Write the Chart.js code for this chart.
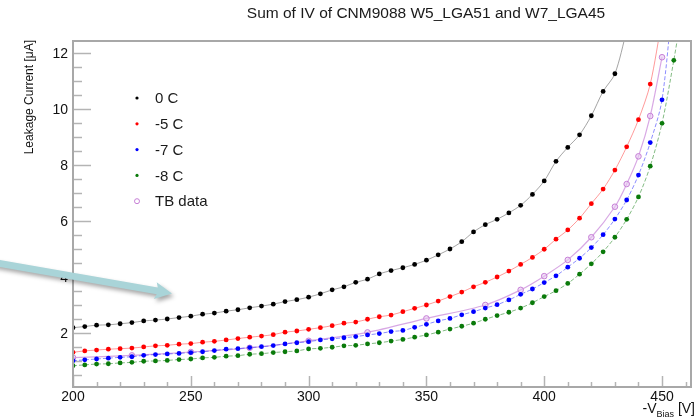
<!DOCTYPE html>
<html>
<head>
<meta charset="UTF-8">
<title>Sum of IV</title>
<script src="https://cdn.jsdelivr.net/npm/chart.js"></script>
<style>
  body { margin: 0; background: #fff; }
  canvas { display: block; }
</style>
</head>
<body>
<canvas id="ivChart" width="696" height="420"></canvas>
<script>
// bias voltage [V] and leakage current [uA]
const volts0 = [200,205,210,215,220,225,230,235,240,245,250,255,260,265,270,275,280,285,290,295,
  300,305,310,315,320,325,330,335,340,345,350,355,360,365,370,375,380,385,390,395,400,405,410,415,420,425,430,435];
const cur0 = [2.19,2.23,2.28,2.29,2.33,2.37,2.43,2.46,2.50,2.55,2.60,2.67,2.71,2.78,2.83,2.90,2.96,3.03,3.12,3.19,
  3.28,3.40,3.54,3.65,3.81,3.92,4.11,4.23,4.33,4.45,4.60,4.79,5.00,5.26,5.61,5.87,6.06,6.29,6.56,6.95,
  7.43,8.13,8.63,9.08,9.76,10.63,11.26,12.8];

const volts5 = [200,205,210,215,220,225,230,235,240,245,250,255,260,265,270,275,280,285,290,295,
  300,305,310,315,320,325,330,335,340,345,350,355,360,365,370,375,380,385,390,395,400,405,410,415,420,425,430,435,440,445,450];
const cur5 = [1.31,1.36,1.39,1.42,1.44,1.46,1.50,1.54,1.56,1.60,1.62,1.67,1.70,1.75,1.80,1.85,1.89,1.94,2.03,2.07,
  2.13,2.19,2.26,2.35,2.39,2.49,2.58,2.64,2.76,2.88,3.00,3.14,3.30,3.46,3.65,3.81,4.00,4.21,4.45,4.70,
  4.99,5.35,5.68,6.10,6.62,7.14,7.82,8.65,9.62,10.89,13.2];

const volts7 = [200,205,210,215,220,225,230,235,240,245,250,255,260,265,270,275,280,285,290,295,
  300,305,310,315,320,325,330,335,340,345,350,355,360,365,370,375,380,385,390,395,400,405,410,415,420,425,430,435,440,445,450,455];
const cur7 = [1.01,1.04,1.07,1.10,1.13,1.15,1.20,1.23,1.25,1.27,1.30,1.33,1.37,1.42,1.44,1.48,1.51,1.55,1.61,1.65,
  1.69,1.75,1.79,1.83,1.87,1.93,1.98,2.05,2.09,2.20,2.31,2.43,2.52,2.65,2.76,2.89,3.01,3.18,3.38,3.57,
  3.80,4.04,4.35,4.67,5.05,5.51,6.07,6.75,7.64,8.80,10.33,14.4];

const volts8 = [200,205,210,215,220,225,230,235,240,245,250,255,260,265,270,275,280,285,290,295,
  300,305,310,315,320,325,330,335,340,345,350,355,360,365,370,375,380,385,390,395,400,405,410,415,420,425,430,435,440,445,450,455,460];
const cur8 = [0.83,0.86,0.89,0.90,0.93,0.95,0.99,1.00,1.02,1.05,1.07,1.11,1.13,1.17,1.19,1.24,1.26,1.30,1.33,1.36,
  1.43,1.45,1.49,1.54,1.56,1.61,1.65,1.71,1.77,1.85,1.93,2.03,2.14,2.24,2.35,2.49,2.62,2.74,2.89,3.08,
  3.30,3.51,3.77,4.10,4.47,4.90,5.42,6.06,6.86,7.96,9.49,11.74,14.3];

const voltsTB = [200,225,250,275,300,325,350,375,390,400,410,420,430,435,440,445,450];
const curTB = [1.12,1.20,1.32,1.47,1.72,2.02,2.52,3.00,3.54,4.03,4.61,5.42,6.51,7.32,8.31,9.75,11.85];

const xTicks = [200, 250, 300, 350, 400, 450];
const yTicks = [2, 4, 6, 8, 10, 12];
const legendLabels = ['0 C', '-5 C', '-7 C', '-8 C', 'TB data'];

const FONT = '"Liberation Sans", Arial, Helvetica, sans-serif';

function pts(xs, ys) {
    return xs.map((x, i) => ({ x: x, y: ys[i] }));
}

function series(label, xs, ys, color, lineColor, dash) {
    return {
        label: label,
        data: pts(xs, ys),
        borderColor: lineColor,
        borderWidth: 1,
        borderDash: dash || [],
        tension: 0.3,
        pointRadius: 2.4,
        pointBorderWidth: 0,
        pointBackgroundColor: color,
        pointBorderColor: color
    };
}

const markerColors = ['#000000', '#ff0000', '#0000ff', '#0a7a0a', '#c67fd6'];

const decor = {
    id: 'decor',
    beforeDatasetsDraw(chart) {
        const ctx = chart.ctx;
        const a = chart.chartArea;
        const xs = chart.scales.x, ys = chart.scales.y;
        ctx.save();
        ctx.strokeStyle = '#b4b4b4';
        ctx.lineWidth = 1.5;
        // y ticks pointing inward, every 0.5
        for (let v = 0.5; v <= 12.01; v += 0.5) {
            const y = Math.round(ys.getPixelForValue(v)) + 0.5;
            const len = (Math.abs(v % 2) < 0.01) ? 18 : 9;
            ctx.beginPath();
            ctx.moveTo(a.left, y);
            ctx.lineTo(a.left + len, y);
            ctx.stroke();
        }
        // x ticks every 10
        for (let v = 200; v <= 460; v += 10) {
            const x = Math.round(xs.getPixelForValue(v)) + 0.5;
            const len = (v % 50 === 0) ? 11 : 5;
            ctx.beginPath();
            ctx.moveTo(x, a.bottom);
            ctx.lineTo(x, a.bottom - len);
            ctx.stroke();
        }
        ctx.restore();
    },
    afterDraw(chart) {
        const ctx = chart.ctx;
        const a = chart.chartArea;
        const xs = chart.scales.x, ys = chart.scales.y;
        ctx.save();

        // frame
        ctx.strokeStyle = '#a8a8a8';
        ctx.lineWidth = 2;
        ctx.strokeRect(a.left, a.top, a.right - a.left, a.bottom - a.top);

        // title
        ctx.fillStyle = '#1a1a1a';
        ctx.font = '15.5px ' + FONT;
        ctx.textAlign = 'center';
        ctx.textBaseline = 'middle';
        ctx.fillText('Sum of IV of CNM9088 W5_LGA51 and W7_LGA45', 426, 14);

        // tick labels
        ctx.fillStyle = '#111';
        ctx.font = '14px ' + FONT;
        ctx.textAlign = 'right';
        yTicks.forEach(v => ctx.fillText(String(v), 68, ys.getPixelForValue(v) + 1));
        ctx.textAlign = 'center';
        ctx.textBaseline = 'top';
        xTicks.forEach(v => ctx.fillText(String(v), xs.getPixelForValue(v), a.bottom + 3));

        // y title
        ctx.save();
        ctx.translate(30, a.top - 1);
        ctx.rotate(-Math.PI / 2);
        ctx.font = '12px ' + FONT;
        ctx.textAlign = 'right';
        ctx.textBaseline = 'middle';
        ctx.fillText('Leakage Current [\u03bcA]', 0, 0);
        ctx.restore();

        // x title: -V_Bias [V]
        ctx.textBaseline = 'alphabetic';
        ctx.textAlign = 'right';
        ctx.font = '14px ' + FONT;
        let xr = 695;
        ctx.fillText(' [V]', xr, 413);
        xr -= ctx.measureText(' [V]').width;
        ctx.font = '9px ' + FONT;
        ctx.fillText('Bias', xr, 417);
        xr -= ctx.measureText('Bias').width;
        ctx.font = '14px ' + FONT;
        ctx.fillText('-V', xr, 413);

        // legend
        ctx.font = '15px ' + FONT;
        ctx.textAlign = 'left';
        ctx.textBaseline = 'middle';
        legendLabels.forEach((lab, i) => {
            const y = 98 + i * 25.8;
            ctx.beginPath();
            if (i === 4) {
                ctx.strokeStyle = markerColors[i];
                ctx.lineWidth = 1;
                ctx.arc(137, y, 2.5, 0, Math.PI * 2);
                ctx.stroke();
            } else {
                ctx.fillStyle = markerColors[i];
                ctx.arc(137, y, 1.6, 0, Math.PI * 2);
                ctx.fill();
            }
            ctx.fillStyle = '#1a1a1a';
            ctx.fillText(lab, 155, y + 1);
        });

        // arrow annotation
        const x0 = -6, y0 = 262.5, x1 = 172, y1 = 293.5;
        const ang = Math.atan2(y1 - y0, x1 - x0);
        const L = Math.hypot(x1 - x0, y1 - y0);
        ctx.translate(x0, y0);
        ctx.rotate(ang);
        ctx.shadowColor = 'rgba(0,0,0,0.35)';
        ctx.shadowBlur = 4;
        ctx.shadowOffsetX = 2;
        ctx.shadowOffsetY = 3;
        ctx.fillStyle = '#a9d4d8';
        ctx.beginPath();
        ctx.moveTo(0, -3.4);
        ctx.lineTo(L - 15, -3.4);
        ctx.lineTo(L - 17, -8.5);
        ctx.lineTo(L, 0);
        ctx.lineTo(L - 17, 8.5);
        ctx.lineTo(L - 15, 3.4);
        ctx.lineTo(0, 3.4);
        ctx.closePath();
        ctx.fill();
        ctx.restore();
    }
};

new Chart(document.getElementById('ivChart'), {
    type: 'line',
    data: {
        datasets: [
            series('0 C', volts0, cur0, '#000000', 'rgba(90,90,90,0.55)'),
            series('-5 C', volts5, cur5, '#ff0000', 'rgba(255,0,0,0.4)'),
            series('-7 C', volts7, cur7, '#0000ff', 'rgba(0,0,255,0.45)', [4, 2]),
            series('-8 C', volts8, cur8, '#0a7a0a', 'rgba(10,122,10,0.5)', [4, 2]),
            {
                label: 'TB data',
                data: pts(voltsTB, curTB),
                borderColor: 'rgba(190,110,210,0.6)',
                borderWidth: 1.2,
                tension: 0.3,
                pointRadius: 2.8,
                pointBorderWidth: 1,
                pointBorderColor: '#c67fd6',
                pointBackgroundColor: 'rgba(230,200,240,0.6)'
            }
        ]
    },
    options: {
        responsive: false,
        animation: false,
        layout: { padding: { left: 73, right: 3, top: 41, bottom: 33 } },
        plugins: {
            legend: { display: false },
            title: { display: false },
            tooltip: { enabled: false }
        },
        scales: {
            x: { type: 'linear', min: 200, max: 462.3, display: false },
            y: { type: 'linear', min: 0.07, max: 12.43, display: false }
        }
    },
    plugins: [decor]
});
</script>
</body>
</html>
